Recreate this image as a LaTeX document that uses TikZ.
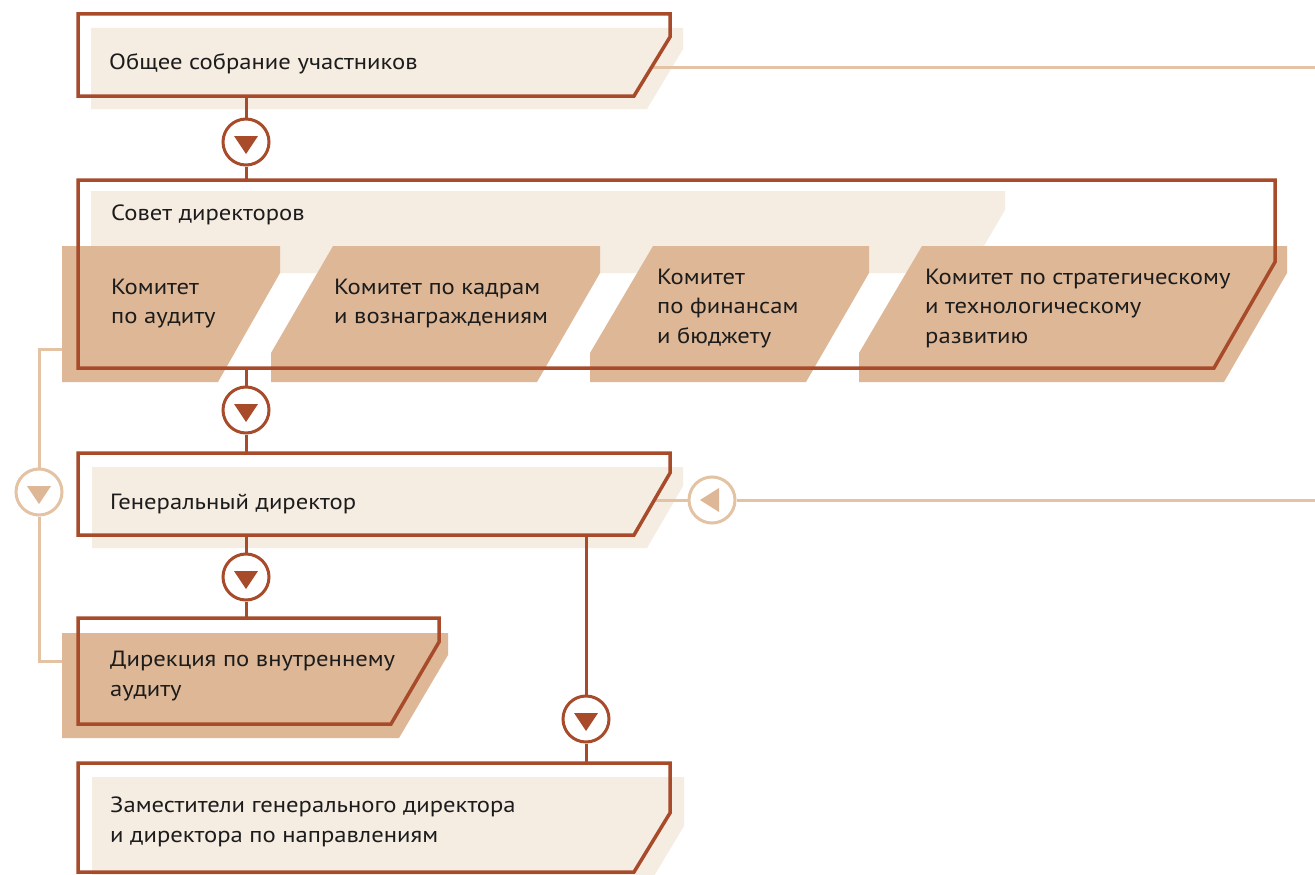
\documentclass[tikz,border=0pt]{standalone}
\usepackage{fontspec}
\setmainfont[FakeStretch=1.12]{PT Sans}
\definecolor{rust}{RGB}{168,75,43}
\definecolor{lightfill}{RGB}{245,236,226}
\definecolor{tanfill}{RGB}{222,183,150}
\definecolor{tanline}{RGB}{227,195,163}
\definecolor{textc}{RGB}{28,28,28}
\begin{document}
\begin{tikzpicture}[x=1pt,y=-1pt,
  outl/.style={draw=rust,line width=3.5pt},
  dline/.style={draw=rust,line width=3pt},
  tline/.style={draw=tanline,line width=3pt},
  dcirc/.style={circle,draw=rust,fill=white,line width=3pt,minimum size=46pt,inner sep=0pt},
  lcirc/.style={circle,draw=tanline,fill=white,line width=3pt,minimum size=46pt,inner sep=0pt},
  txt/.style={anchor=base west,align=left,inner sep=0pt,font=\fontsize{22}{29.5}\selectfont,text=textc}]
\clip (0,0) rectangle (1315,875);
\fill[white] (0,0) rectangle (1315,875);
% light fills
\fill[lightfill] (91,28) -- (683,28) -- (683,49) -- (647,109) -- (91,109) -- cycle;
\fill[lightfill] (91,191) -- (1005,191) -- (1005,210) -- (968,273) -- (91,273) -- cycle;
\fill[lightfill] (92,467) -- (683,467) -- (683,486) -- (647,548) -- (92,548) -- cycle;
\fill[lightfill] (92,777) -- (684,777) -- (684,826) -- (648,886) -- (92,886) -- cycle;
% committees and internal audit fills
\fill[tanfill] (62,246) -- (280,246) -- (280,273) -- (218,382) -- (62,382) -- cycle;
\fill[tanfill] (333,246) -- (600,246) -- (600,273) -- (537,382) -- (271,382) -- (271,353) -- cycle;
\fill[tanfill] (653,246) -- (869,246) -- (869,273) -- (806,382) -- (590,382) -- (590,353) -- cycle;
\fill[tanfill] (922,246) -- (1287,246) -- (1287,273) -- (1224,382) -- (859,382) -- (859,353) -- cycle;
\fill[tanfill] (62,633) -- (448,633) -- (448,655) -- (399,738) -- (62,738) -- cycle;
% circles
\node[dcirc] (c1) at (246,142) {};
\node[dcirc] (c2) at (246,410) {};
\node[dcirc] (c3) at (246,577) {};
\node[dcirc] (c4) at (586,719) {};
\node[lcirc] (lc) at (39,492) {};
\node[lcirc] (rc) at (712,500) {};
% connector end points
\coordinate (s1) at (246,96);  \coordinate (s2) at (246,180);
\coordinate (s3) at (246,368); \coordinate (s4) at (246,453);
\coordinate (s5) at (246,535); \coordinate (s6) at (246,618);
\coordinate (s7) at (586,535); \coordinate (s8) at (586,763);
\coordinate (k1w) at (62,349); \coordinate (lt) at (39,349);
\coordinate (lb) at (39,661);  \coordinate (dw) at (62,661);
\coordinate (b1r) at (651,68); \coordinate (e1) at (1315,68);
\coordinate (gr) at (654,500); \coordinate (e2) at (1315,500);
% light connectors
\draw[tline] (k1w) -- (lt) -- (lc);
\draw[tline] (lc) -- (lb) -- (dw);
\draw[tline] (b1r) -- (e1);
\draw[tline] (gr) -- (rc) -- (e2);
% outlines
\draw[outl] (78,14) -- (670,14) -- (670,37) -- (634,96) -- (78,96) -- cycle;
\draw[outl] (78,180) -- (1275,180) -- (1275,262) -- (1214,368) -- (78,368) -- cycle;
\draw[outl] (78,453) -- (670,453) -- (670,473) -- (634,535) -- (78,535) -- cycle;
\draw[outl] (78,618) -- (439,618) -- (439,642) -- (391,724) -- (78,724) -- cycle;
\draw[outl] (78,763) -- (670,763) -- (670,813) -- (634,872) -- (78,872) -- cycle;
% dark connectors
\draw[dline] (s1) -- (c1) -- (s2);
\draw[dline] (s3) -- (c2) -- (s4);
\draw[dline] (s5) -- (c3) -- (s6);
\draw[dline] (s7) -- (c4) -- (s8);
% triangles
\foreach \n in {c1,c2,c3,c4}
  \fill[rust] ([shift={(-12,-6)}]\n.center) -- ([shift={(12,-6)}]\n.center) -- ([shift={(0,12)}]\n.center) -- cycle;
\fill[tanfill] ([shift={(-12,-6)}]lc.center) -- ([shift={(12,-6)}]lc.center) -- ([shift={(0,12)}]lc.center) -- cycle;
\fill[tanfill] ([shift={(7,-12)}]rc.center) -- ([shift={(7,12)}]rc.center) -- ([shift={(-12,0)}]rc.center) -- cycle;
% texts (base = baseline of the last line)
\node[txt] (t1) at (109,70) {Общее собрание участников};
\node[txt] (t2) at (111,220) {Совет директоров};
\node[txt] (k1) at (111,323.5) {Комитет\\по аудиту};
\node[txt] (k2) at (334,323.5) {Комитет по кадрам\\и вознаграждениям};
\node[txt] (k3) at (657,343) {Комитет\\по финансам\\и бюджету};
\node[txt] (k4) at (925,343) {Комитет по стратегическому\\и технологическому\\развитию};
\node[txt] (g) at (110,509) {Генеральный директор};
\node[txt] (d) at (110,696) {Дирекция по внутреннему\\аудиту};
\node[txt] (z) at (110,842) {Заместители генерального директора\\и директора по направлениям};
\end{tikzpicture}
\end{document}
